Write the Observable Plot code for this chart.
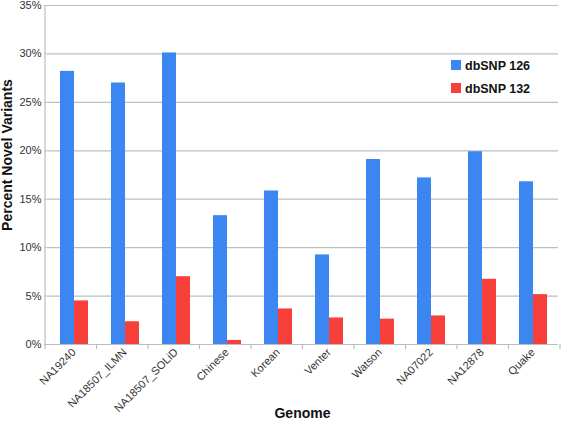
<!DOCTYPE html>
<html><head>
<meta charset="utf-8">
<script src="https://cdn.jsdelivr.net/npm/d3@7"></script>
<script src="https://cdn.jsdelivr.net/npm/@observablehq/plot@0.6"></script>
<style>
body{margin:0;background:#fff;}
#wrap{position:relative;width:561px;height:425px;font-family:"Liberation Sans",Arial,Helvetica,sans-serif;}
</style>
</head><body><div id="wrap"></div>
<script>
const genomes = ["NA19240","NA18507_ILMN","NA18507_SOLiD","Chinese","Korean","Venter","Watson","NA07022","NA12878","Quake"];
const dbsnp126 = [28.2, 27.0, 30.1, 13.3, 15.85, 9.25, 19.1, 17.2, 19.9, 16.8];
const dbsnp132 = [4.5, 2.35, 7.0, 0.42, 3.67, 2.74, 2.62, 2.95, 6.73, 5.15];
const series = ["dbSNP 126","dbSNP 132"];
const colors = ["#3c86f2","#f7403a"];
const yTicks = [0,5,10,15,20,25,30,35];

const data = genomes.flatMap((g,i)=>[
  {genome:g, series:series[0], value:dbsnp126[i]},
  {genome:g, series:series[1], value:dbsnp132[i]}
]);

const font = '"Liberation Sans",Arial,Helvetica,sans-serif';
const gridColor = "#b8bfc3";

const chart = Plot.plot({
  width:561, height:425,
  marginLeft:45, marginRight:1, marginTop:5, marginBottom:81,
  style:{fontFamily:font, fontSize:"11px", color:"#333", background:"white", overflow:"visible"},
  fx:{domain:genomes, padding:0, label:null, tickRotate:-45, tickSize:0, tickPadding:6},
  x:{domain:series, paddingInner:0, paddingOuter:0.717, axis:null},
  y:{domain:[0,35], ticks:yTicks, tickFormat:d=>d+"%", label:null, tickSize:4, tickPadding:3},
  color:{domain:series, range:colors},
  marks:[
    Plot.ruleY(yTicks.slice(1), {stroke:gridColor, strokeWidth:1.2}),
    Plot.barY(data,{fx:"genome", x:"series", y:"value", fill:"series"}),
    Plot.ruleY([0], {stroke:gridColor, strokeWidth:1.2})
  ]
});

document.getElementById("wrap").appendChild(chart);
const svg = d3.select(chart);
const ys = chart.scale("y");
const fxs = chart.scale("fx");
const y0 = ys.apply(0), y35 = ys.apply(35);
const left = fxs.range[0], right = fxs.range[1];
svg.selectAll('[aria-label="y-axis tick"] path').attr("stroke", gridColor);
svg.append("line").attr("x1",left).attr("x2",left).attr("y1",y35).attr("y2",y0)
  .attr("stroke",gridColor).attr("stroke-width",1.2);
const step = (right-left)/genomes.length;
const bounds = d3.range(genomes.length+1).map(i=>left+i*step);
svg.append("g").selectAll("line").data(bounds).join("line")
  .attr("x1",d=>d).attr("x2",d=>d).attr("y1",y0).attr("y2",y0+5)
  .attr("stroke",gridColor).attr("stroke-width",1.2);
svg.append("text").attr("x",(left+right)/2).attr("y",418).attr("text-anchor","middle")
  .attr("font-weight","bold").attr("font-size",14).attr("fill","#111").attr("font-family",font).text("Genome");
svg.append("text").attr("transform","translate(12,155) rotate(-90)").attr("text-anchor","middle")
  .attr("font-weight","bold").attr("font-size",14).attr("fill","#111").attr("font-family",font).text("Percent Novel Variants");
const lg = svg.append("g").attr("font-family",font).attr("text-anchor","start");
series.forEach((s,i)=>{
  lg.append("rect").attr("x",451).attr("y",60+i*23).attr("width",10).attr("height",10).attr("fill",colors[i]);
  lg.append("text").attr("x",465).attr("y",70+i*23).attr("text-anchor","start").attr("font-weight","bold").attr("font-size",12.5).attr("fill","#111").text(s);
});
</script>
</body></html>
